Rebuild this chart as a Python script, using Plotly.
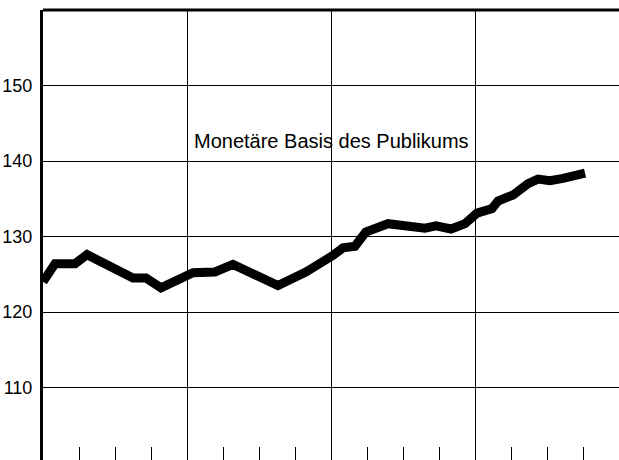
import plotly.graph_objects as go

# months since start of the first year
months = [0.0, 1.0, 2.67, 3.67, 7.5, 8.58, 9.83, 12.08, 12.5, 14.33, 15.83, 19.58,
          21.9, 24.17, 25.0, 26.0, 26.9, 28.75, 30.17, 31.83, 32.75, 34.0, 35.17,
          36.17, 37.42, 37.92, 39.17, 40.42, 41.25, 42.25, 43.33, 45.17]
basis = [124.0, 126.4, 126.4, 127.6, 124.5, 124.5, 123.2, 125.0, 125.2, 125.3, 126.3, 123.5,
         125.3, 127.5, 128.5, 128.7, 130.6, 131.7, 131.5, 131.1, 131.4, 131.0, 131.7,
         133.1, 133.7, 134.7, 135.5, 137.0, 137.6, 137.4, 137.7, 138.4]

y_ticks = [110, 120, 130, 140, 150]
label = "Monetäre Basis des Publikums"

fig = go.Figure()
fig.add_trace(go.Scatter(
    x=months, y=basis, mode="lines",
    line=dict(color="black", width=9, shape="linear"),
    hoverinfo="skip", showlegend=False,
))

fig.add_annotation(
    x=24.05, y=142.6, text=label, showarrow=False,
    font=dict(family="Liberation Sans", size=20, color="black"),
)

# thick frame line on top
fig.add_shape(type="line", xref="paper", yref="paper", x0=0, x1=1, y0=1, y1=1,
              line=dict(color="black", width=3))

fig.update_xaxes(
    range=[0, 48], tick0=0, dtick=12, showgrid=True, gridcolor="black", gridwidth=1.3,
    ticks="", showticklabels=False, zeroline=False, showline=False,
    minor=dict(tick0=0, dtick=3, ticks="inside", ticklen=13, tickcolor="black",
               tickwidth=1.3, showgrid=False),
)
fig.update_yaxes(
    range=[100.4, 160], tickvals=y_ticks, showgrid=True, gridcolor="black", gridwidth=1.3,
    showline=True, linecolor="black", linewidth=3, zeroline=False, ticks="",
    ticklabelstandoff=4,
    tickfont=dict(family="Liberation Sans", size=18, color="black"),
)
fig.update_layout(
    width=619, height=460,
    margin=dict(l=43, r=0, t=10, b=0),
    plot_bgcolor="white", paper_bgcolor="white",
)

fig.write_html(
    "out.html",
    config={"displayModeBar": False},
    post_script="document.body.style.margin='0';document.body.style.overflow='hidden';",
)
